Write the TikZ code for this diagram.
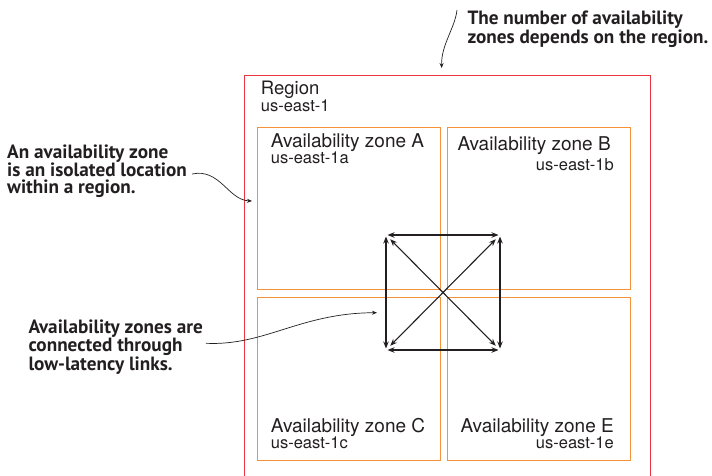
\documentclass[tikz,border=0pt]{standalone}
\usepackage{fontspec}
\setmainfont{TeX Gyre Heros}
\newfontfamily\notefont{PT Sans}
\usetikzlibrary{arrows.meta}
\definecolor{regionred}{RGB}{232,52,62}
\definecolor{zoneorange}{RGB}{246,146,58}
\definecolor{inkgray}{RGB}{35,31,32}

\begin{document}
\begin{tikzpicture}[x=1pt,y=-1pt,regionbox/.style={draw=regionred,line width=1pt,inner sep=0pt,anchor=north west,minimum width=406pt,minimum height=416pt},zone/.style={draw=zoneorange,line width=1.2pt,inner sep=0pt,anchor=north west,minimum width=183pt},ztitle/.style={text=inkgray,font=\fontsize{19}{19}\selectfont,inner sep=0pt},zid/.style={text=inkgray,font=\fontsize{16.5}{16.5}\selectfont,inner sep=0pt},note/.style={text=inkgray,font=\notefont\bfseries\fontsize{19.2}{17}\selectfont,align=left,inner sep=0pt,anchor=north west},link/.style={{Stealth[length=7pt,width=5.5pt]}-{Stealth[length=7pt,width=5.5pt]},line width=1.1pt,draw=inkgray},callout/.style={-{Stealth[length=5pt,width=4pt]},line width=0.7pt,draw=inkgray}]
\useasboundingbox (0,0) rectangle (712,475);
\node[regionbox] (rg) at (243.5,74.5) {};
\node[zone,minimum height=162pt] (za) at (256.5,126.5) {};
\node[zone,minimum height=162pt] (zb) at (446.5,126.5) {};
\node[zone,minimum height=163pt] (zc) at (256.5,296.5) {};
\node[zone,minimum height=163pt] (ze) at (446.5,296.5) {};
% labels
\node[ztitle,font=\fontsize{18.5}{18.5}\selectfont,anchor=base west] (rgt) at (260.7,94.3) {Region};
\node[zid,anchor=base west] (rgi) at (260.7,111.7) {us-east-1};
\node[ztitle,anchor=base west] (zat) at (270.7,147.3) {Availability zone A};
\node[zid,anchor=base west] (zai) at (270.7,163.3) {us-east-1a};
\node[ztitle,anchor=base west] (zbt) at (457.3,150) {Availability zone B};
\node[zid,anchor=base east] (zbi) at (614,170) {us-east-1b};
\node[ztitle,anchor=base west] (zct) at (270.7,432.7) {Availability zone C};
\node[zid,anchor=base west] (zci) at (270.7,448.3) {us-east-1c};
\node[ztitle,anchor=base east] (zet) at (614,432.7) {Availability zone E};
\node[zid,anchor=base east] (zei) at (614,448.3) {us-east-1e};
% links between zones
\coordinate (c0) at (386,235);
\coordinate (c1) at (500,235);
\coordinate (c2) at (386,350);
\coordinate (c3) at (500,350);
\draw[link,shorten <=1.5pt,shorten >=1.5pt] (c0) -- (c1);
\draw[link,shorten <=1.5pt,shorten >=1.5pt] (c2) -- (c3);
\draw[link,shorten <=1.5pt,shorten >=1.5pt] (c0) -- (c2);
\draw[link,shorten <=1.5pt,shorten >=1.5pt] (c1) -- (c3);
\draw[link,shorten <=6pt,shorten >=6pt] (c0) -- (c3);
\draw[link,shorten <=6pt,shorten >=6pt] (c1) -- (c2);
% notes
\node[note] (n0) at (467.3,11) {The number of availability\\zones depends on the region.};
\node[note] (n1) at (7,144.5) {An availability zone\\is an isolated location\\within a region.};
\node[note] (n2) at (28.3,319.5) {Availability zones are\\connected through\\low-latency links.};
\coordinate (t0) at (441.7,68);
\coordinate (t1) at (252,201);
\coordinate (t2) at (377,312.7);
\draw[callout] (457,10) .. controls (455,28) and (441,45) .. (t0);
\draw[callout] ([xshift=5pt]n1.east |- 0,174) .. controls (220,168) and (228,200) .. (t1);
\draw[callout] ([xshift=3pt]n2.east |- 0,343.3) .. controls (265,346) and (300,313) .. (t2);
\end{tikzpicture}
\end{document}
